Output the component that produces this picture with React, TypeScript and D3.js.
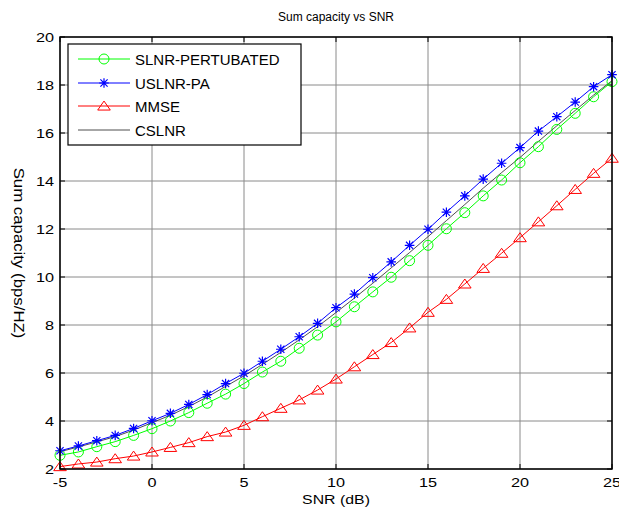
import React from "react";
import * as d3 from "d3";

const snr = d3.range(-5, 26);
const slnrPert = [2.57, 2.71, 2.93, 3.14, 3.4, 3.68, 4.0, 4.35, 4.74, 5.12, 5.56, 6.04, 6.49, 7.03, 7.58, 8.13, 8.76, 9.38, 9.99, 10.68, 11.32, 12.01, 12.68, 13.38, 14.04, 14.76, 15.43, 16.15, 16.82, 17.51, 18.14];
const uslnrPa = [2.76, 2.96, 3.18, 3.4, 3.69, 4.01, 4.32, 4.69, 5.1, 5.56, 5.99, 6.49, 6.99, 7.51, 8.07, 8.72, 9.29, 9.97, 10.63, 11.32, 11.99, 12.7, 13.38, 14.08, 14.74, 15.39, 16.08, 16.68, 17.29, 17.93, 18.43];
const mmse = [2.1, 2.21, 2.29, 2.43, 2.54, 2.71, 2.9, 3.1, 3.35, 3.54, 3.82, 4.18, 4.53, 4.88, 5.29, 5.75, 6.26, 6.77, 7.27, 7.88, 8.53, 9.07, 9.71, 10.36, 10.99, 11.64, 12.3, 12.97, 13.65, 14.32, 14.95];
const cslnr = [2.72, 2.92, 3.13, 3.35, 3.62, 3.93, 4.24, 4.6, 5.0, 5.44, 5.88, 6.36, 6.86, 7.38, 7.93, 8.52, 9.12, 9.74, 10.38, 11.02, 11.68, 12.35, 13.02, 13.7, 14.35, 14.98, 15.65, 16.3, 16.94, 17.58, 18.18];
const xTicks = [-5, 0, 5, 10, 15, 20, 25];
const yTicks = [2, 4, 6, 8, 10, 12, 14, 16, 18, 20];
const legendLabels = ["SLNR-PERTUBATED", "USLNR-PA", "MMSE", "CSLNR"];

const W = 619, H = 514;
const L = 60, R = 612, T = 37, B = 469;
const FONT = "Liberation Sans, Arial, sans-serif";
const SX = 1.25;

function Circle({ x, y }: { x: number; y: number }) {
  return <circle cx={x} cy={y} r={5} fill="none" stroke="#00ff00" strokeWidth={1} />;
}
function Star({ x, y }: { x: number; y: number }) {
  const s = 4.8, d = s * 0.75;
  const p = `M${x - s},${y}L${x + s},${y}M${x},${y - s}L${x},${y + s}M${x - d},${y - d}L${x + d},${y + d}M${x - d},${y + d}L${x + d},${y - d}`;
  return <path d={p} stroke="#0000ff" strokeWidth={1.2} fill="none" />;
}
function Tri({ x, y }: { x: number; y: number }) {
  const w = 6.3, h = 9;
  const p = `M${x},${y - h * 0.55}L${x + w},${y + h * 0.45}L${x - w},${y + h * 0.45}Z`;
  return <path d={p} stroke="#ff0000" strokeWidth={1} fill="none" />;
}

export default function App() {
  const x = d3.scaleLinear().domain([-5, 25]).range([L, R]);
  const y = d3.scaleLinear().domain([2, 20]).range([B, T]);
  const line = d3.line<number>().x((_, i) => x(snr[i])).y((d) => y(d));

  const legendRows = [T + 22, T + 46, T + 69, T + 93];
  const lx0 = 78, lx1 = 130, lm = 104, lt = 135;

  return (
    <svg width={W} height={H} style={{ position: "absolute", left: 0, top: 0, background: "#fff" }} fontFamily={FONT}>
      <rect x={0} y={0} width={W} height={H} fill="#fff" />
      {xTicks.map((t) => (
        <line key={"gx" + t} x1={x(t)} x2={x(t)} y1={T} y2={B} stroke="#8a8a8a" strokeWidth={1} />
      ))}
      {yTicks.map((t) => (
        <line key={"gy" + t} x1={L} x2={R} y1={y(t)} y2={y(t)} stroke="#8a8a8a" strokeWidth={1} />
      ))}
      {xTicks.map((t) => (
        <g key={"tx" + t}>
          <line x1={x(t)} x2={x(t)} y1={B} y2={B - 5} stroke="#000" />
          <line x1={x(t)} x2={x(t)} y1={T} y2={T + 5} stroke="#000" />
          <text transform={`translate(${x(t)},${B + 18}) scale(${SX},1)`} textAnchor="middle" fontSize={13}>{t}</text>
        </g>
      ))}
      {yTicks.map((t) => (
        <g key={"ty" + t}>
          <line x1={L} x2={L + 5} y1={y(t)} y2={y(t)} stroke="#000" />
          <line x1={R} x2={R - 5} y1={y(t)} y2={y(t)} stroke="#000" />
          <text transform={`translate(${L - 6},${y(t) + 4.7}) scale(${SX},1)`} textAnchor="end" fontSize={13}>{t}</text>
        </g>
      ))}
      <path d={line(cslnr) || ""} fill="none" stroke="#222" strokeWidth={0.8} />
      <path d={line(slnrPert) || ""} fill="none" stroke="#00ff00" strokeWidth={1} />
      <path d={line(uslnrPa) || ""} fill="none" stroke="#0000ff" strokeWidth={1} />
      <path d={line(mmse) || ""} fill="none" stroke="#ff0000" strokeWidth={1} />
      {slnrPert.map((v, i) => <Circle key={"c" + i} x={x(snr[i])} y={y(v)} />)}
      {uslnrPa.map((v, i) => <Star key={"s" + i} x={x(snr[i])} y={y(v)} />)}
      {mmse.map((v, i) => <Tri key={"t" + i} x={x(snr[i])} y={y(v)} />)}
      <rect x={L} y={T} width={R - L} height={B - T} fill="none" stroke="#000" strokeWidth={1.5} />
      <rect x={68} y={44} width={233} height={101} fill="#fff" stroke="#000" strokeWidth={1.2} />
      <line x1={lx0} x2={lx1} y1={legendRows[0]} y2={legendRows[0]} stroke="#00ff00" />
      <Circle x={lm} y={legendRows[0]} />
      <line x1={lx0} x2={lx1} y1={legendRows[1]} y2={legendRows[1]} stroke="#0000ff" />
      <Star x={lm} y={legendRows[1]} />
      <line x1={lx0} x2={lx1} y1={legendRows[2]} y2={legendRows[2]} stroke="#ff0000" />
      <Tri x={lm} y={legendRows[2]} />
      <line x1={lx0} x2={lx1} y1={legendRows[3]} y2={legendRows[3]} stroke="#222" strokeWidth={0.8} />
      {legendLabels.map((lab, i) => (
        <text key={lab} x={lt} y={legendRows[i] + 5.5} fontSize={15}>{lab}</text>
      ))}
      <text x={(L + R) / 2} y={21} textAnchor="middle" fontSize={12}>Sum capacity vs SNR</text>
      <text transform={`translate(${(L + R) / 2},${504}) scale(1.22,1)`} textAnchor="middle" fontSize={13}>SNR (dB)</text>
      <text transform={`translate(14,${(T + B) / 2}) rotate(90) scale(1.2,1)`} textAnchor="middle" fontSize={14}>Sum capacity (bps/HZ)</text>
    </svg>
  );
}
